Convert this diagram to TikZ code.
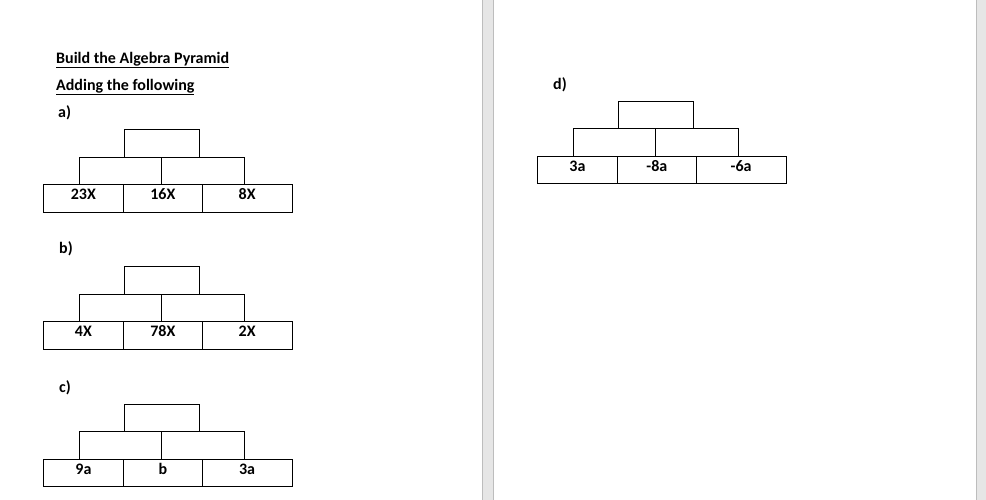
\documentclass[tikz,border=0pt]{standalone}
\usepackage{fontspec}
\setmainfont{Carlito}
\definecolor{pagegap}{HTML}{E6E6E6}
\definecolor{gapline}{HTML}{BDBDBD}
\tikzset{
  cell/.style={draw=black, line width=0.8pt, rectangle, inner sep=0pt, anchor=north west,
    minimum height=27.5pt, text height=11.5pt, text depth=8.5pt,
    font=\fontsize{16}{18}\selectfont\bfseries},
  heading/.style={anchor=base west, inner sep=0pt, font=\fontsize{16}{18}\selectfont\bfseries},
}
\newcommand{\mypyr}[6]{%
  % #1 name, #2 x of bottom-left, #3 y of bottom-left, #4-#6 texts
  \node[cell, minimum width=80.6pt] (#1b1) at (#2, #3-27.5) {#4};
  \node[cell, minimum width=78.4pt] (#1b2) at (#2+80.6, #3-27.5) {#5};
  \node[cell, minimum width=90pt] (#1b3) at (#2+159, #3-27.5) {#6};
  \node[cell, minimum width=82.5pt] (#1m1) at (#2+36, #3-55) {};
  \node[cell, minimum width=82.3pt] (#1m2) at (#2+118.5, #3-55) {};
  \node[cell, minimum width=75pt] (#1t) at (#2+81.6, #3-82.5) {};
}
\begin{document}
\begin{tikzpicture}[x=1pt, y=-1pt]
\useasboundingbox (0,0) rectangle (986,500);
\fill[white] (0,0) rectangle (986,500);
% page gaps
\fill[pagegap] (482,0) rectangle (494,500);
\draw[gapline, line width=0.8pt] (482.4,0) -- (482.4,500) (493.6,0) -- (493.6,500);
\fill[pagegap] (976,0) rectangle (986,500);
\draw[gapline, line width=0.8pt] (976.4,0) -- (976.4,500);
% headings
\node[heading] (title) at (56,63.5) {\underline{Build the Algebra Pyramid}};
\node[heading] (sub) at (56,90.5) {\underline{Adding the following}};
\node[heading] (la) at (58,118) {a)};
\node[heading] (lb) at (59,254) {b)};
\node[heading] (lc) at (59,392) {c)};
\node[heading] (ld) at (553,90) {d)};
% pyramids
\mypyr{a}{42.7}{211.7}{23X}{16X}{8X}
\mypyr{b}{42.7}{348.5}{4X}{78X}{2X}
\mypyr{c}{42.7}{486}{9a}{b}{3a}
\mypyr{d}{536.7}{183.3}{3a}{-8a}{-6a}
\end{tikzpicture}
\end{document}
